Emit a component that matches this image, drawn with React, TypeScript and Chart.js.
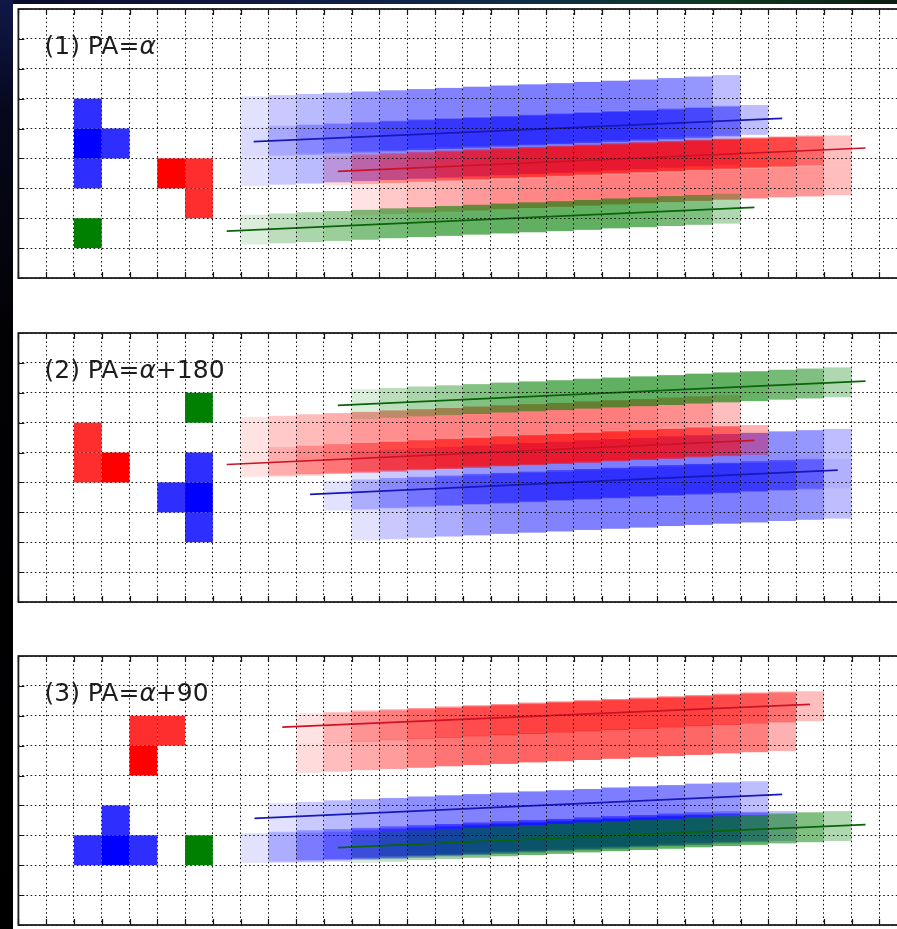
import React, { useEffect, useRef } from "react";
import { Chart, registerables } from "chart.js";

Chart.register(...registerables);

// Pixel grid extent of every panel (in detector pixels)
const X_MAX = 32;
const Y_MAX = 9;

// Opacity of each successive exposure along a smear (first -> last step)
const stepAlpha = [0.14, 0.26, 0.33, 0.39, 0.49, 0.54, 0.58, 0.6, 0.61, 0.62, 0.62, 0.62, 0.62, 0.62, 0.6, 0.54, 0.5, 0.31];

// Source footprints: [dx, dy, relative intensity]
const blueShape1 = [[0, 0, 0.82], [0, 1, 1], [0, 2, 0.82], [1, 1, 0.82]];
const redShape1 = [[0, 1, 1], [1, 1, 0.82], [1, 0, 0.82]];
const blueShape2 = [[1, 0, 0.82], [1, 1, 1], [1, 2, 0.82], [0, 1, 0.82]];
const redShape2 = [[0, 1, 0.82], [0, 0, 0.82], [1, 0, 1]];
const blueShape3 = [[0, 0, 0.82], [1, 0, 1], [2, 0, 0.82], [1, 1, 0.82]];
const redShape3 = [[0, 1, 0.82], [1, 1, 0.82], [0, 0, 1]];
const greenShape = [[0, 0, 1]];

// ---- Panel 1: PA = alpha
const label1 = ["(1) PA=", "α", ""];
const blueOrigin1 = [2, 3];
const redOrigin1 = [5, 2];
const greenOrigin1 = [2, 1];
const blueStepX1 = [8, 9, 10, 11, 12, 13, 14, 15, 16, 17, 18, 19, 20, 21, 22, 23, 24, 25];
const blueStepY1 = [3.08, 3.12, 3.16, 3.2, 3.24, 3.28, 3.32, 3.36, 3.4, 3.44, 3.48, 3.52, 3.56, 3.6, 3.64, 3.69, 3.74, 3.79];
const redStepX1 = [11, 12, 13, 14, 15, 16, 17, 18, 19, 20, 21, 22, 23, 24, 25, 26, 27, 28];
const redStepY1 = [2.1, 2.14, 2.18, 2.22, 2.26, 2.3, 2.34, 2.38, 2.42, 2.46, 2.5, 2.54, 2.58, 2.62, 2.66, 2.7, 2.73, 2.77];
const greenStepX1 = [8, 9, 10, 11, 12, 13, 14, 15, 16, 17, 18, 19, 20, 21, 22, 23, 24, 25];
const greenStepY1 = [1.12, 1.16, 1.2, 1.24, 1.28, 1.33, 1.37, 1.41, 1.45, 1.49, 1.53, 1.57, 1.61, 1.66, 1.7, 1.74, 1.78, 1.82];
const blueLineX1 = [8.47, 27.5];
const blueLineY1 = [4.56, 5.34];
const redLineX1 = [11.5, 30.5];
const redLineY1 = [3.57, 4.35];
const greenLineX1 = [7.5, 26.5];
const greenLineY1 = [1.57, 2.36];

// ---- Panel 2: PA = alpha + 180
const label2 = ["(2) PA=", "α", "+180"];
const blueOrigin2 = [5, 2];
const redOrigin2 = [2, 4];
const greenOrigin2 = [6, 6];
const blueStepX2 = [11, 12, 13, 14, 15, 16, 17, 18, 19, 20, 21, 22, 23, 24, 25, 26, 27, 28];
const blueStepY2 = [2.06, 2.1, 2.15, 2.19, 2.23, 2.28, 2.32, 2.36, 2.41, 2.45, 2.49, 2.54, 2.58, 2.62, 2.66, 2.71, 2.75, 2.79];
const redStepX2 = [8, 9, 10, 11, 12, 13, 14, 15, 16, 17, 18, 19, 20, 21, 22, 23, 24, 25];
const redStepY2 = [4.19, 4.23, 4.28, 4.32, 4.36, 4.41, 4.45, 4.49, 4.54, 4.58, 4.62, 4.66, 4.71, 4.75, 4.79, 4.84, 4.88, 4.92];
const greenStepX2 = [12, 13, 14, 15, 16, 17, 18, 19, 20, 21, 22, 23, 24, 25, 26, 27, 28, 29];
const greenStepY2 = [6.12, 6.16, 6.21, 6.25, 6.29, 6.34, 6.38, 6.42, 6.47, 6.51, 6.55, 6.59, 6.64, 6.68, 6.72, 6.77, 6.81, 6.85];
const blueLineX2 = [10.5, 29.5];
const blueLineY2 = [3.6, 4.41];
const redLineX2 = [7.5, 26.5];
const redLineY2 = [4.6, 5.41];
const greenLineX2 = [11.5, 30.5];
const greenLineY2 = [6.58, 7.39];

// ---- Panel 3: PA = alpha + 90
const label3 = ["(3) PA=", "α", "+90"];
const blueOrigin3 = [2, 2];
const redOrigin3 = [4, 5];
const greenOrigin3 = [6, 2];
const blueStepX3 = [8, 9, 10, 11, 12, 13, 14, 15, 16, 17, 18, 19, 20, 21, 22, 23, 24, 25];
const blueStepY3 = [2.08, 2.12, 2.17, 2.21, 2.25, 2.3, 2.34, 2.38, 2.43, 2.47, 2.51, 2.55, 2.6, 2.64, 2.68, 2.73, 2.77, 2.81];
const redStepX3 = [10, 11, 12, 13, 14, 15, 16, 17, 18, 19, 20, 21, 22, 23, 24, 25, 26, 27];
const redStepY3 = [5.09, 5.13, 5.18, 5.22, 5.26, 5.31, 5.35, 5.39, 5.44, 5.48, 5.52, 5.56, 5.61, 5.65, 5.69, 5.74, 5.78, 5.82];
const greenStepX3 = [12, 13, 14, 15, 16, 17, 18, 19, 20, 21, 22, 23, 24, 25, 26, 27, 28, 29];
const greenStepY3 = [2.08, 2.12, 2.17, 2.21, 2.25, 2.3, 2.34, 2.38, 2.43, 2.47, 2.51, 2.55, 2.6, 2.64, 2.68, 2.73, 2.77, 2.81];
const blueLineX3 = [8.5, 27.5];
const blueLineY3 = [3.57, 4.37];
const redLineX3 = [9.5, 28.5];
const redLineY3 = [6.62, 7.38];
const greenLineX3 = [11.5, 30.5];
const greenLineY3 = [2.59, 3.36];

const BLUE = "0,0,255";
const RED = "255,0,0";
const GREEN = "0,128,0";
const BLUE_LINE = "#1818b8";
const RED_LINE = "#cc1226";
const GREEN_LINE = "#0a640a";

type Source = {
  rgb: string;
  lineColor: string;
  shape: number[][];
  origin: number[];
  stepX: number[];
  stepY: number[];
  lineX: number[];
  lineY: number[];
};

type PanelDef = { top: number; label: string[]; sources: Source[] };

const panels: PanelDef[] = [
  {
    top: 9,
    label: label1,
    sources: [
      { rgb: BLUE, lineColor: BLUE_LINE, shape: blueShape1, origin: blueOrigin1, stepX: blueStepX1, stepY: blueStepY1, lineX: blueLineX1, lineY: blueLineY1 },
      { rgb: RED, lineColor: RED_LINE, shape: redShape1, origin: redOrigin1, stepX: redStepX1, stepY: redStepY1, lineX: redLineX1, lineY: redLineY1 },
      { rgb: GREEN, lineColor: GREEN_LINE, shape: greenShape, origin: greenOrigin1, stepX: greenStepX1, stepY: greenStepY1, lineX: greenLineX1, lineY: greenLineY1 },
    ],
  },
  {
    top: 333,
    label: label2,
    sources: [
      { rgb: BLUE, lineColor: BLUE_LINE, shape: blueShape2, origin: blueOrigin2, stepX: blueStepX2, stepY: blueStepY2, lineX: blueLineX2, lineY: blueLineY2 },
      { rgb: RED, lineColor: RED_LINE, shape: redShape2, origin: redOrigin2, stepX: redStepX2, stepY: redStepY2, lineX: redLineX2, lineY: redLineY2 },
      { rgb: GREEN, lineColor: GREEN_LINE, shape: greenShape, origin: greenOrigin2, stepX: greenStepX2, stepY: greenStepY2, lineX: greenLineX2, lineY: greenLineY2 },
    ],
  },
  {
    top: 656,
    label: label3,
    sources: [
      { rgb: BLUE, lineColor: BLUE_LINE, shape: blueShape3, origin: blueOrigin3, stepX: blueStepX3, stepY: blueStepY3, lineX: blueLineX3, lineY: blueLineY3 },
      { rgb: RED, lineColor: RED_LINE, shape: redShape3, origin: redOrigin3, stepX: redStepX3, stepY: redStepY3, lineX: redLineX3, lineY: redLineY3 },
      { rgb: GREEN, lineColor: GREEN_LINE, shape: greenShape, origin: greenOrigin3, stepX: greenStepX3, stepY: greenStepY3, lineX: greenLineX3, lineY: greenLineY3 },
    ],
  },
];

// Canvas geometry
const CANVAS_W = 930;
const PLOT_LEFT = 18.4;
const PLOT_W = 888.8;
const PLOT_H = 269;
const PAD = 12;
const CANVAS_H = PLOT_H + 2 * PAD;
const TICK_LEN = 6;
const LABEL_X = 0.94;
const LABEL_Y = 7.5;
const LABEL_FONT = 25;

function fillCell(ctx: CanvasRenderingContext2D, xs: any, ys: any, cx: number, cy: number, color: string) {
  const l = xs.getPixelForValue(cx);
  const r = xs.getPixelForValue(cx + 1);
  const t = ys.getPixelForValue(cy + 1);
  const b = ys.getPixelForValue(cy);
  ctx.fillStyle = color;
  ctx.fillRect(l, t, r - l, b - t);
}

function makePlugin(panel: PanelDef) {
  return {
    id: "smearCells",
    beforeDatasetsDraw(chart: any) {
      const { ctx, chartArea, scales } = chart;
      ctx.save();
      ctx.beginPath();
      ctx.rect(chartArea.left, chartArea.top, chartArea.right - chartArea.left, chartArea.bottom - chartArea.top);
      ctx.clip();
      for (const src of panel.sources) {
        src.stepX.forEach((sx, k) => {
          const sy = src.stepY[k];
          for (const [dx, dy, w] of src.shape) {
            fillCell(ctx, scales.x, scales.y, sx + dx, sy + dy, `rgba(${src.rgb},${(stepAlpha[k] * w).toFixed(3)})`);
          }
        });
      }
      ctx.restore();
    },
    afterDraw(chart: any) {
      const { ctx, chartArea, scales } = chart;
      const xs = scales.x;
      const ys = scales.y;
      ctx.save();
      // the sources themselves
      for (const src of panel.sources) {
        for (const [dx, dy, w] of src.shape) {
          fillCell(ctx, xs, ys, src.origin[0] + dx, src.origin[1] + dy, `rgba(${src.rgb},${w})`);
        }
      }
      // inward tick marks
      ctx.strokeStyle = "#111";
      ctx.lineWidth = 1.2;
      ctx.beginPath();
      for (const t of xs.ticks) {
        const px = Math.round(xs.getPixelForValue(t.value)) + 0.5;
        ctx.moveTo(px, chartArea.bottom);
        ctx.lineTo(px, chartArea.bottom - TICK_LEN);
        ctx.moveTo(px, chartArea.top);
        ctx.lineTo(px, chartArea.top + TICK_LEN);
      }
      for (const t of ys.ticks) {
        const py = Math.round(ys.getPixelForValue(t.value)) + 0.5;
        ctx.moveTo(chartArea.left, py);
        ctx.lineTo(chartArea.left + TICK_LEN, py);
        ctx.moveTo(chartArea.right, py);
        ctx.lineTo(chartArea.right - TICK_LEN, py);
      }
      ctx.stroke();
      // frame
      ctx.strokeStyle = "#1e1e1e";
      ctx.lineWidth = 1.8;
      ctx.strokeRect(chartArea.left, chartArea.top, chartArea.right - chartArea.left, chartArea.bottom - chartArea.top);
      // panel label
      const [pre, greek, post] = panel.label;
      let x = xs.getPixelForValue(LABEL_X);
      const y = ys.getPixelForValue(LABEL_Y);
      ctx.fillStyle = "#1c1c1c";
      ctx.textBaseline = "alphabetic";
      ctx.textAlign = "left";
      ctx.font = `${LABEL_FONT}px "DejaVu Sans"`;
      ctx.fillText(pre, x, y);
      x += ctx.measureText(pre).width;
      ctx.font = `italic ${LABEL_FONT}px "DejaVu Sans"`;
      ctx.fillText(greek, x, y);
      x += ctx.measureText(greek).width;
      ctx.font = `${LABEL_FONT}px "DejaVu Sans"`;
      ctx.fillText(post, x, y);
      ctx.restore();
    },
  };
}

function gridAxis(max: number) {
  return {
    type: "linear" as const,
    min: 0,
    max,
    ticks: { display: false, stepSize: 1, maxTicksLimit: 100 },
    grid: { color: "rgba(0,0,0,0.9)", lineWidth: 1, drawTicks: false, z: 1 },
    border: { display: false, dash: [1.6, 2.6] },
  };
}

function SmearPanel({ panel }: { panel: PanelDef }) {
  const ref = useRef<HTMLCanvasElement>(null);
  useEffect(() => {
    if (!ref.current) return;
    const datasets = panel.sources.map((src) => ({
      data: src.lineX.map((lx, i) => ({ x: lx, y: src.lineY[i] })),
      showLine: true,
      borderColor: src.lineColor,
      borderWidth: 1.7,
      pointRadius: 0,
      fill: false,
    }));
    const chart = new Chart(ref.current, {
      type: "scatter",
      data: { datasets },
      options: {
        responsive: false,
        animation: false,
        layout: {
          padding: { left: PLOT_LEFT, top: PAD, right: CANVAS_W - PLOT_LEFT - PLOT_W, bottom: PAD },
        },
        plugins: { legend: { display: false }, tooltip: { enabled: false } },
        scales: { x: gridAxis(X_MAX), y: gridAxis(Y_MAX) },
      },
      plugins: [makePlugin(panel)],
    } as any);
    return () => chart.destroy();
  }, [panel]);
  return (
    <canvas
      ref={ref}
      width={CANVAS_W}
      height={CANVAS_H}
      style={{ position: "absolute", left: 0, top: panel.top - PAD, width: CANVAS_W, height: CANVAS_H }}
    />
  );
}

export default function App() {
  return (
    <div style={{ position: "absolute", left: 0, top: 0, width: 897, height: 929, overflow: "hidden", background: "#ffffff" }}>
      <div
        style={{
          position: "absolute", left: 0, top: 0, width: 897, height: 4,
          background: "linear-gradient(90deg, #0a0a2a 0%, #101c48 35%, #0e2f46 60%, #0f3a22 80%, #0a1e10 100%)",
        }}
      />
      <div
        style={{
          position: "absolute", left: 0, top: 0, width: 13, height: 929,
          background: "linear-gradient(180deg, #101848 0%, #07081c 12%, #020205 35%, #000 100%)",
        }}
      />
      {panels.map((p, i) => (
        <SmearPanel key={i} panel={p} />
      ))}
    </div>
  );
}
